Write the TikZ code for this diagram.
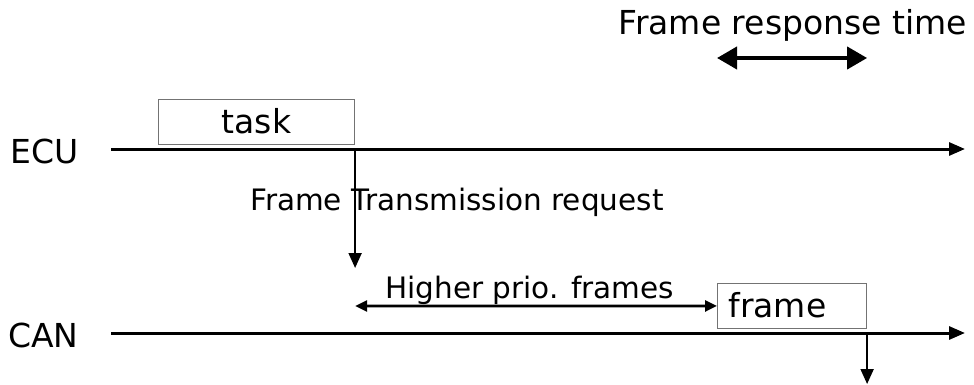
\documentclass[tikz,border=0pt]{standalone}
\usepackage{fontspec}
\setmainfont{DejaVu Sans}
\usetikzlibrary{arrows.meta,calc,positioning}

\begin{document}
\begin{tikzpicture}[x=1pt,y=-1pt]
	\tikzset{
		timeline/.style={line width=3pt,-{Triangle[length=16pt,width=13pt]}},
		request/.style={line width=2pt,-{Triangle[length=15pt,width=13pt]}},
		prio/.style={line width=2.7pt,{Triangle[length=12pt,width=11pt]}-{Triangle[length=12pt,width=11pt]}},
		resp/.style={line width=4pt,{Triangle[length=20pt,width=22pt]}-{Triangle[length=20pt,width=22pt]}},
		slot/.style={draw=black!55,line width=1.1pt,minimum height=45pt,inner sep=0pt,
			text height=24pt,text depth=0pt},
		txt/.style={inner sep=0pt,font=\fontsize{33}{36}\selectfont},
		small/.style={inner sep=0pt,font=\fontsize{29.5}{32}\selectfont}}
	\useasboundingbox (0,0) rectangle (974,385);
	\def\ecu{149} \def\can{333}
	% the two time axes
	\coordinate (E0) at (111,\ecu); \coordinate (E1) at (965,\ecu);
	\coordinate (C0) at (111,\can); \coordinate (C1) at (965,\can);
	\node[txt,anchor=base west] (ecu) at (10,163) {ECU};
	\node[txt,anchor=base west] (can) at (8,347) {CAN};
	\draw[timeline] (E0)--(E1);
	\draw[timeline] (C0)--(C1);
	% task on the ECU, frame on the bus
	\node[slot,txt,minimum width=196pt,anchor=south west] (task) at (158,145) {task};
	\node[slot,txt,text width=127pt,inner xsep=11pt,align=left,anchor=south west] (frame) at (717,329) {frame};
	% request from the end of the task
	\coordinate (rq0) at (task.south east |- E0);
	\coordinate (rq1) at ($(rq0)+(0,119)$);
	\draw[request] (rq0)--(rq1);
	\node[small,anchor=base west] (reqtxt) at (250,210) {Frame Transmission request};
	% waiting for higher priority frames
	\coordinate (hp0) at (rq1 |- 0,306);
	\draw[prio] (hp0)--(frame.west);
	\node[small,anchor=base west] (hptxt) at (385,298) {Higher prio. frames};
	% frame received
	\coordinate (rx0) at (frame.south east |- C0);
	\coordinate (rx1) at (rx0 |- 0,384);
	\draw[request] (rx0)--(rx1);
	% response time
	\coordinate (rt0) at (frame.west |- 0,58); \coordinate (rt1) at (rx0 |- rt0);
	\draw[resp] (rt0)--(rt1);
	\node[txt,anchor=base east] (resptxt) at (967,35) {Frame response time};
\end{tikzpicture}
\end{document}
